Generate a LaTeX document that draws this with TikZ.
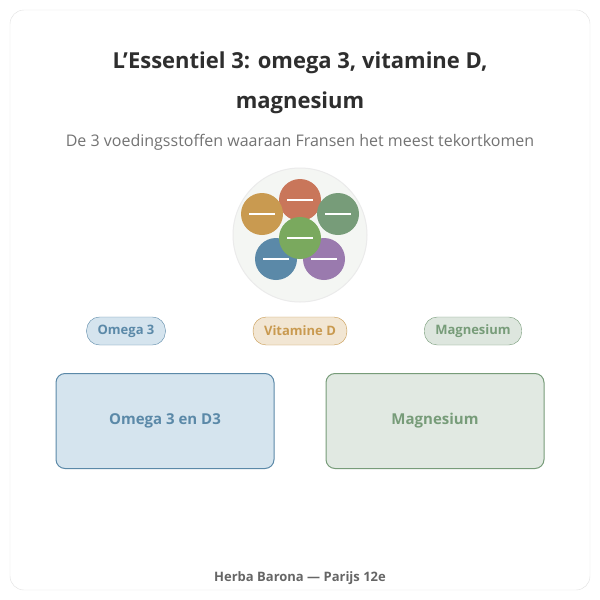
\documentclass[tikz,border=0pt]{standalone}
\usepackage{fontspec}
\setmainfont{Open Sans}
\begin{document}
\begin{tikzpicture}[x=1pt,y=-1pt,
 pill/.style={draw, rounded corners=13pt, minimum height=28pt, inner xsep=11pt, font=\bfseries\fontsize{13}{15}\selectfont},
 box/.style={draw, rounded corners=9pt, line width=1pt, minimum width=218pt, minimum height=95pt, font=\bfseries\fontsize{15}{18}\selectfont},
 dot/.style={circle, minimum size=42pt, inner sep=0pt},
 wdash/.style={white, line width=1.6pt}]
\definecolor{ob}{HTML}{5B89A8}\definecolor{vy}{HTML}{C99A50}\definecolor{mg}{HTML}{779C79}
\definecolor{rd}{HTML}{C9765A}\definecolor{gr}{HTML}{7AA95E}\definecolor{pu}{HTML}{9A7AAE}
\definecolor{bg}{HTML}{F4F6F3}\definecolor{obf}{HTML}{D5E4EE}
\useasboundingbox (0,0) rectangle (600,600);
\fill[white] (0,0) rectangle (600,600);
\draw[black!12, fill=white, rounded corners=14pt] (10,10) rectangle (590,590);
\node[font=\bfseries\fontsize{22}{40}\selectfont, text=black!82, align=center] (t) at (300,83) {L'Essentiel 3: omega 3, vitamine D,\\magnesium};
\node[font=\fontsize{16}{18}\selectfont, text=black!55] (s) at (300,142) {De 3 voedingsstoffen waaraan Fransen het meest tekortkomen};
\node[circle, minimum size=134pt, draw=black!8, fill=bg, line width=1pt] (big) at (300,235) {};
\foreach \n/\x/\y/\c in {a/300/200/rd, b/262/214/vy, c/338/214/mg, d/276/259/ob, e/324/259/pu, f/300/238/gr}{
 \node[dot, fill=\c] (\n) at (\x,\y) {};
 \draw[wdash] ([xshift=-13pt]\n.center) -- ([xshift=13pt]\n.center);
}
\node[pill, draw=ob, fill=obf, text=ob] (p1) at (126,331) {Omega 3};
\node[pill, draw=vy, fill=vy!25, text=vy] (p2) at (300,331) {Vitamine D};
\node[pill, draw=mg, fill=mg!25, text=mg] (p3) at (473,331) {Magnesium};
\node[box, draw=ob, fill=obf, text=ob] (b1) at (165,421) {Omega 3 en D3};
\node[box, draw=mg, fill=mg!22, text=mg] (b2) at (435,421) {Magnesium};
\node[font=\bfseries\fontsize{13}{15}\selectfont, text=black!60] (f) at (300,578) {Herba Barona — Parijs 12e};
\end{tikzpicture}
\end{document}
